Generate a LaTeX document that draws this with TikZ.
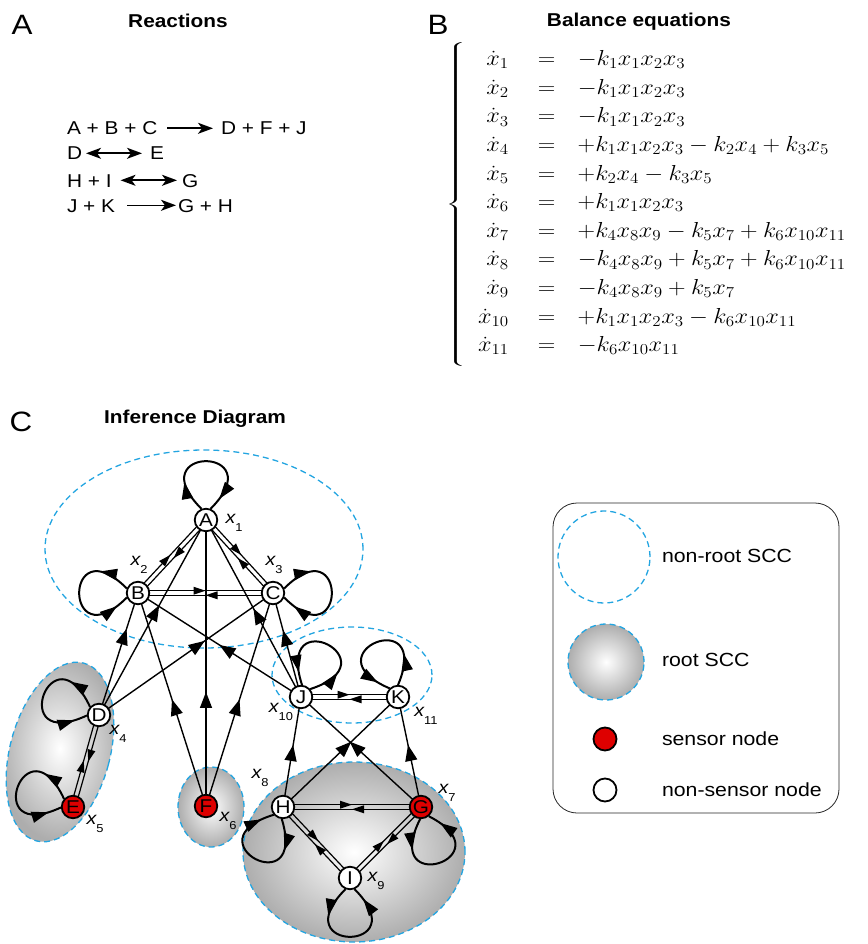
\RequirePackage{fix-cm}
\documentclass[tikz,border=0pt]{standalone}
\usepackage[no-math]{fontspec}
\setmainfont{Liberation Sans}[FakeStretch=1.12]
\usepackage{graphicx}
\usetikzlibrary{arrows.meta,calc,decorations.markings,shapes.geometric}

\definecolor{sensorred}{RGB}{222,0,0}
\definecolor{sccblue}{RGB}{35,165,225}

\pgfdeclarelayer{back}
\pgfdeclarelayer{edges}
\pgfsetlayers{back,edges,main}

% x_i label: italic x with a low-set index
\newcommand\xs[1]{{\fontsize{17.5}{17.5}\selectfont\itshape x}\raisebox{-8pt}{\fontsize{11.5}{12}\selectfont #1}}

% filled triangular head, tip at the mark, pointing along the path
\newcommand\headtri[2]{\fill (-#1,-#2) -- (0pt,0pt) -- (-#1,#2) -- cycle;}

% two parallel opposite edges between nodes #1 and #2
\newcommand\twoway[2]{%
  \draw[pairline] ($(#1)!2.3pt!90:(#2)$) -- ($(#2)!2.3pt!-90:(#1)$);
  \draw[pairline] ($(#2)!2.3pt!90:(#1)$) -- ($(#1)!2.3pt!-90:(#2)$);}

% self-loops of node #1 pointing in direction #2
\newcommand\cwloop[2]{%
  \draw[loopline] ($(#1)+(#2+22:12pt)$) .. controls +(#2+45:90pt) and +(#2-45:90pt) .. ($(#1)+(#2-22:12pt)$);}
\newcommand\ccwloop[2]{%
  \draw[loopline] ($(#1)+(#2-22:12pt)$) .. controls +(#2-45:90pt) and +(#2+45:90pt) .. ($(#1)+(#2+22:12pt)$);}

\tikzset{
  every node/.style={inner sep=0pt, outer sep=0pt},
  panel/.style={font=\fontsize{28}{30}\selectfont},
  headline/.style={font=\bfseries\fontsize{18.6}{20}\selectfont},
  rxn/.style={font=\fontsize{18.6}{20}\selectfont, text height=13.4pt, text depth=0pt},
  rarrow/.style={line width=1.6pt, -{Stealth[length=15pt,width=11pt,inset=4pt]}},
  rarrows/.style={line width=1.6pt, {Stealth[length=15pt,width=11pt,inset=4pt]}-{Stealth[length=15pt,width=11pt,inset=4pt]}},
  vtx/.style={circle, draw, line width=1.8pt, fill=white, minimum size=22.5pt, font=\fontsize{18.5}{18.5}\selectfont},
  sensor/.style={vtx, fill=sensorred},
  xlbl/.style={},
  lgtext/.style={font=\fontsize{19}{20}\selectfont},
  midarrow/.style={line width=1.4pt, postaction={decorate},
    decoration={markings, mark=at position #1 with {\headtri{16pt}{6.2pt}}}},
  midarrow/.default=0.5,
  pairline/.style={line width=1.2pt, postaction={decorate},
    decoration={markings, mark=at position 0.5 with {\headtri{12pt}{4pt}}}},
  loopline/.style={line width=2pt, postaction={decorate},
    decoration={markings, mark=at position 0.24 with {\headtri{17pt}{5.8pt}},
      mark=at position 0.9 with {\headtri{17pt}{5.8pt}}}},
  scc/.style={draw=sccblue, line width=1.3pt, dash pattern=on 6pt off 4pt},
  rootscc/.style={scc, inner color=white, outer color=black!32},
}

\begin{document}
\begin{tikzpicture}[x=1pt,y=1pt]
\useasboundingbox (0,0) rectangle (867,-944);

% ---- headings ----
\node[panel, anchor=base] (pA) at (22,-35) {A};
\node[headline, anchor=base] (tA) at (178,-28) {Reactions};
\node[panel, anchor=base] (pB) at (438,-35) {B};
\node[headline, anchor=base] (tB) at (639,-27) {Balance equations};
\node[panel, anchor=base] (pC) at (21,-431) {C};
\node[headline, anchor=base] (tC) at (195,-423) {Inference Diagram};

% ---- reactions ----
\node[rxn, anchor=base west] (r1l) at (67,-135) {A + B + C};
\node[rxn, anchor=base west] (r1r) at (221,-135) {D + F + J};
\node[rxn, anchor=base west] (r2l) at (67,-160) {D};
\node[rxn, anchor=base west] (r2r) at (150,-160) {E};
\node[rxn, anchor=base west] (r3l) at (67,-187) {H + I};
\node[rxn, anchor=base west] (r3r) at (182,-187) {G};
\node[rxn, anchor=base west] (r4l) at (67,-212) {J + K};
\node[rxn, anchor=base west] (r4r) at (178,-212) {G + H};
\draw[rarrow, shorten <=10pt, shorten >=8pt] (r1l) -- (r1r);
\draw[rarrows, shorten <=4pt, shorten >=8pt] (r2l) -- (r2r);
\draw[rarrows, shorten <=9pt, shorten >=5pt] (r3l) -- (r3r);
\draw[rarrow, shorten <=12pt, shorten >=2pt] (r4l) -- (r4r);

% ---- balance equations ----
\node (brace) at (457,-204.5) {\scalebox{2.3}[1]{$\left\{\vrule height 160pt depth 160pt width 0pt\right.$}};
\node[anchor=west, font=\fontsize{21.7}{28.6}\selectfont] (eqs) at (478,-203)
{\scalebox{1.12}[1]{$\begin{array}{@{}r@{\hspace{26pt}}c@{\hspace{20pt}}l@{}}
\dot x_1 & = & -k_1x_1x_2x_3\\
\dot x_2 & = & -k_1x_1x_2x_3\\
\dot x_3 & = & -k_1x_1x_2x_3\\
\dot x_4 & = & +k_1x_1x_2x_3-k_2x_4+k_3x_5\\
\dot x_5 & = & +k_2x_4-k_3x_5\\
\dot x_6 & = & +k_1x_1x_2x_3\\
\dot x_7 & = & +k_4x_8x_9-k_5x_7+k_6x_{10}x_{11}\\
\dot x_8 & = & -k_4x_8x_9+k_5x_7+k_6x_{10}x_{11}\\
\dot x_9 & = & -k_4x_8x_9+k_5x_7\\
\dot x_{10} & = & +k_1x_1x_2x_3-k_6x_{10}x_{11}\\
\dot x_{11} & = & -k_6x_{10}x_{11}
\end{array}$}};

% ---- strongly connected components ----
\begin{pgfonlayer}{back}
  \node[ellipse, scc, minimum width=318pt, minimum height=198pt] (sccABC) at (204,-549) {};
  \node[ellipse, scc, minimum width=160pt, minimum height=96pt] (sccJK) at (352,-675) {};
  \node[ellipse, rootscc, rotate=-15, minimum width=100pt, minimum height=184pt] (sccDE) at (60,-752) {};
  \node[ellipse, rootscc, minimum width=66pt, minimum height=80pt] (sccF) at (211,-807) {};
  \node[ellipse, rootscc, minimum width=222pt, minimum height=180pt] (sccGHI) at (354,-852) {};
\end{pgfonlayer}

% ---- species nodes ----
\node[vtx] (A) at (206,-520) {A};
\node[vtx] (B) at (138,-593) {B};
\node[vtx] (C) at (273,-593) {C};
\node[vtx] (D) at (99,-715) {D};
\node[sensor] (E) at (73,-807) {E};
\node[sensor] (F) at (206,-806) {F};
\node[vtx] (J) at (301,-697) {J};
\node[vtx] (K) at (398,-697) {K};
\node[vtx] (H) at (283,-807) {H};
\node[sensor] (G) at (421,-807) {G};
\node[vtx] (I) at (350,-878) {I};

\node[xlbl] (x1) at (234,-523) {\xs{1}};
\node[xlbl] (x2) at (139,-565) {\xs{2}};
\node[xlbl] (x3) at (274,-565) {\xs{3}};
\node[xlbl] (x4) at (118,-734) {\xs{4}};
\node[xlbl] (x5) at (95,-824) {\xs{5}};
\node[xlbl] (x6) at (228,-821) {\xs{6}};
\node[xlbl] (x7) at (447,-793) {\xs{7}};
\node[xlbl] (x8) at (260,-778) {\xs{8}};
\node[xlbl] (x9) at (376,-881) {\xs{9}};
\node[xlbl] (x10) at (281,-712) {\xs{10}};
\node[xlbl] (x11) at (426,-716) {\xs{11}};

% ---- interactions ----
\begin{pgfonlayer}{edges}
  \twoway{A}{B} \twoway{A}{C} \twoway{B}{C}
  \twoway{D}{E} \twoway{J}{K}
  \twoway{H}{G} \twoway{H}{I} \twoway{G}{I}

  \draw[midarrow=0.57] (D) -- (A);
  \draw[midarrow=0.75] (D) -- (B);
  \draw[midarrow=0.62] (D) -- (C);
  \draw[midarrow=0.39] (F) -- (A);
  \draw[midarrow=0.50] (F) -- (B);
  \draw[midarrow=0.50] (F) -- (C);
  \draw[midarrow=0.50] (J) -- (A);
  \draw[midarrow=0.50] (J) -- (B);
  \draw[midarrow=0.68] (J) -- (C);
  \draw[midarrow=0.58] (H) -- (J);
  \draw[midarrow=0.58] (G) -- (K);
  \draw[midarrow=0.61] (H) -- (K);
  \draw[midarrow=0.61] (G) -- (J);

  \cwloop{A}{90}
  \ccwloop{B}{180}
  \cwloop{C}{0}
  \ccwloop{D}{160}
  \ccwloop{E}{160}
  \ccwloop{J}{63}
  \ccwloop{K}{112}
  \cwloop{H}{242}
  \ccwloop{G}{288}
  \ccwloop{I}{270}
\end{pgfonlayer}

% ---- legend ----
\node[draw, line width=0.8pt, draw=black!85, rounded corners=24pt,
      minimum width=286pt, minimum height=310pt] (legend) at (696,-658) {};
\node[circle, scc, minimum size=92pt] (lgnonroot) at (604,-557) {};
\node[circle, rootscc, minimum size=76pt] (lgroot) at (606,-662) {};
\node[sensor, minimum size=23pt] (lgsensor) at (605,-739) {};
\node[vtx, minimum size=23pt] (lgplain) at (605,-790) {};
\node[lgtext, anchor=base west] (lt1) at (662,-562) {non-root SCC};
\node[lgtext, anchor=base west] (lt2) at (662,-666) {root SCC};
\node[lgtext, anchor=base west] (lt3) at (662,-745) {sensor node};
\node[lgtext, anchor=base west] (lt4) at (662,-796) {non-sensor node};
\end{tikzpicture}
\end{document}
